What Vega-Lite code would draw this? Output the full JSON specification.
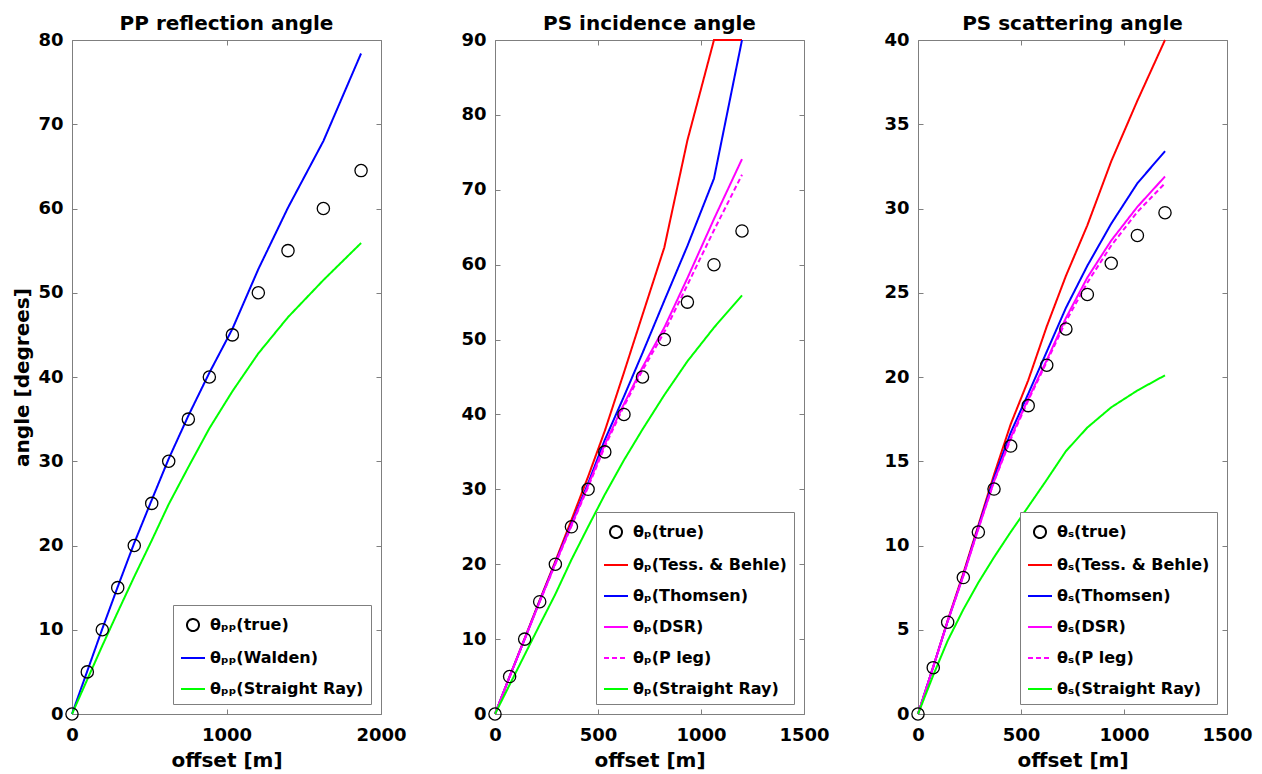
{
  "$schema": "https://vega.github.io/schema/vega-lite/v6.json",
  "background": "white",
  "padding": {"left": 12, "top": 13, "right": 10, "bottom": 0},
  "bounds": "flush",
  "spacing": 114,
  "resolve": {
    "scale": {"x": "independent", "y": "independent", "color": "independent", "shape": "independent", "strokeDash": "independent"},
    "legend": {"color": "independent", "shape": "independent", "strokeDash": "independent"}
  },
  "config": {
    "font": "DejaVu Sans",
    "view": {"stroke": "#7f7f7f", "strokeWidth": 1},
    "axis": {"domain": false, "grid": false, "tickColor": "#7f7f7f", "tickSize": -5, "tickWidth": 1,
      "labelFont": "DejaVu Sans", "labelFontSize": 18, "labelFontWeight": "bold", "labelColor": "black",
      "labelPadding": 14, "labelFlush": false, "labelOverlap": false, "format": "d",
      "titleFont": "DejaVu Sans", "titleFontSize": 20, "titleFontWeight": "bold", "titleColor": "black", "titlePadding": 5},
    "axisX": {"labelPadding": 17, "titlePadding": 6},
    "legend": {"orient": "bottom-right", "offset": 10, "title": null,
      "labelFont": "DejaVu Sans", "labelFontSize": 16, "labelFontWeight": "bold", "labelColor": "black",
      "padding": 7, "strokeColor": "#7f7f7f", "fillColor": "white",
      "symbolStrokeWidth": 2, "rowPadding": 10, "labelOffset": 4, "symbolSize": 576, "labelLimit": 300},
    "title": {"font": "DejaVu Sans", "fontSize": 20, "fontWeight": "bold", "color": "black", "offset": -3}
  },
  "datasets": {
    "pp": [
      {"offset": 0, "angle": 0, "series": "true"},
      {"offset": 99, "angle": 5, "series": "true"},
      {"offset": 196, "angle": 10, "series": "true"},
      {"offset": 296, "angle": 15, "series": "true"},
      {"offset": 403, "angle": 20, "series": "true"},
      {"offset": 516, "angle": 25, "series": "true"},
      {"offset": 626, "angle": 30, "series": "true"},
      {"offset": 753, "angle": 35, "series": "true"},
      {"offset": 889, "angle": 40, "series": "true"},
      {"offset": 1038, "angle": 45, "series": "true"},
      {"offset": 1206, "angle": 50, "series": "true"},
      {"offset": 1398, "angle": 55, "series": "true"},
      {"offset": 1627, "angle": 60, "series": "true"},
      {"offset": 1871, "angle": 64.5, "series": "true"},
      {"offset": 0, "angle": 0, "series": "Walden"},
      {"offset": 99, "angle": 5.1, "series": "Walden"},
      {"offset": 196, "angle": 10.1, "series": "Walden"},
      {"offset": 296, "angle": 15.1, "series": "Walden"},
      {"offset": 403, "angle": 20.3, "series": "Walden"},
      {"offset": 516, "angle": 25.4, "series": "Walden"},
      {"offset": 626, "angle": 30.3, "series": "Walden"},
      {"offset": 753, "angle": 35.4, "series": "Walden"},
      {"offset": 889, "angle": 40.5, "series": "Walden"},
      {"offset": 1038, "angle": 45.7, "series": "Walden"},
      {"offset": 1206, "angle": 52.8, "series": "Walden"},
      {"offset": 1398, "angle": 60.1, "series": "Walden"},
      {"offset": 1627, "angle": 68.0, "series": "Walden"},
      {"offset": 1871, "angle": 78.4, "series": "Walden"},
      {"offset": 0, "angle": 0, "series": "Straight Ray"},
      {"offset": 99, "angle": 4.1, "series": "Straight Ray"},
      {"offset": 196, "angle": 8.1, "series": "Straight Ray"},
      {"offset": 296, "angle": 12.1, "series": "Straight Ray"},
      {"offset": 403, "angle": 16.3, "series": "Straight Ray"},
      {"offset": 516, "angle": 20.6, "series": "Straight Ray"},
      {"offset": 626, "angle": 24.9, "series": "Straight Ray"},
      {"offset": 753, "angle": 29.3, "series": "Straight Ray"},
      {"offset": 889, "angle": 33.9, "series": "Straight Ray"},
      {"offset": 1038, "angle": 38.3, "series": "Straight Ray"},
      {"offset": 1206, "angle": 42.8, "series": "Straight Ray"},
      {"offset": 1398, "angle": 47.1, "series": "Straight Ray"},
      {"offset": 1627, "angle": 51.5, "series": "Straight Ray"},
      {"offset": 1871, "angle": 55.9, "series": "Straight Ray"}
    ],
    "psp": [
      {"offset": 0, "angle": 0, "series": "true"},
      {"offset": 71, "angle": 5, "series": "true"},
      {"offset": 144, "angle": 10, "series": "true"},
      {"offset": 217, "angle": 15, "series": "true"},
      {"offset": 293, "angle": 20, "series": "true"},
      {"offset": 371, "angle": 25, "series": "true"},
      {"offset": 452, "angle": 30, "series": "true"},
      {"offset": 533, "angle": 35, "series": "true"},
      {"offset": 626, "angle": 40, "series": "true"},
      {"offset": 716, "angle": 45, "series": "true"},
      {"offset": 822, "angle": 50, "series": "true"},
      {"offset": 934, "angle": 55, "series": "true"},
      {"offset": 1063, "angle": 60, "series": "true"},
      {"offset": 1199, "angle": 64.5, "series": "true"},
      {"offset": 0, "angle": 0, "series": "Tess. & Behle"},
      {"offset": 71, "angle": 5.0, "series": "Tess. & Behle"},
      {"offset": 144, "angle": 10.1, "series": "Tess. & Behle"},
      {"offset": 217, "angle": 15.2, "series": "Tess. & Behle"},
      {"offset": 293, "angle": 20.4, "series": "Tess. & Behle"},
      {"offset": 371, "angle": 25.9, "series": "Tess. & Behle"},
      {"offset": 452, "angle": 31.7, "series": "Tess. & Behle"},
      {"offset": 533, "angle": 37.8, "series": "Tess. & Behle"},
      {"offset": 626, "angle": 45.6, "series": "Tess. & Behle"},
      {"offset": 716, "angle": 53.3, "series": "Tess. & Behle"},
      {"offset": 822, "angle": 62.3, "series": "Tess. & Behle"},
      {"offset": 934, "angle": 76.6, "series": "Tess. & Behle"},
      {"offset": 1063, "angle": 90, "series": "Tess. & Behle"},
      {"offset": 1199, "angle": 90, "series": "Tess. & Behle"},
      {"offset": 0, "angle": 0, "series": "Thomsen"},
      {"offset": 71, "angle": 5.0, "series": "Thomsen"},
      {"offset": 144, "angle": 10.0, "series": "Thomsen"},
      {"offset": 217, "angle": 15.1, "series": "Thomsen"},
      {"offset": 293, "angle": 20.2, "series": "Thomsen"},
      {"offset": 371, "angle": 25.4, "series": "Thomsen"},
      {"offset": 452, "angle": 30.8, "series": "Thomsen"},
      {"offset": 533, "angle": 36.6, "series": "Thomsen"},
      {"offset": 626, "angle": 42.4, "series": "Thomsen"},
      {"offset": 716, "angle": 48.2, "series": "Thomsen"},
      {"offset": 822, "angle": 55.2, "series": "Thomsen"},
      {"offset": 934, "angle": 62.5, "series": "Thomsen"},
      {"offset": 1063, "angle": 71.5, "series": "Thomsen"},
      {"offset": 1199, "angle": 90, "series": "Thomsen"},
      {"offset": 0, "angle": 0, "series": "DSR"},
      {"offset": 71, "angle": 5.0, "series": "DSR"},
      {"offset": 144, "angle": 10.0, "series": "DSR"},
      {"offset": 217, "angle": 15.0, "series": "DSR"},
      {"offset": 293, "angle": 20.1, "series": "DSR"},
      {"offset": 371, "angle": 25.2, "series": "DSR"},
      {"offset": 452, "angle": 30.5, "series": "DSR"},
      {"offset": 533, "angle": 36.0, "series": "DSR"},
      {"offset": 626, "angle": 41.4, "series": "DSR"},
      {"offset": 716, "angle": 46.3, "series": "DSR"},
      {"offset": 822, "angle": 51.6, "series": "DSR"},
      {"offset": 934, "angle": 58.2, "series": "DSR"},
      {"offset": 1063, "angle": 66.1, "series": "DSR"},
      {"offset": 1199, "angle": 74.1, "series": "DSR"},
      {"offset": 0, "angle": 0, "series": "P leg"},
      {"offset": 71, "angle": 5.0, "series": "P leg"},
      {"offset": 144, "angle": 10.0, "series": "P leg"},
      {"offset": 217, "angle": 15.0, "series": "P leg"},
      {"offset": 293, "angle": 20.0, "series": "P leg"},
      {"offset": 371, "angle": 25.1, "series": "P leg"},
      {"offset": 452, "angle": 30.3, "series": "P leg"},
      {"offset": 533, "angle": 35.7, "series": "P leg"},
      {"offset": 626, "angle": 41.1, "series": "P leg"},
      {"offset": 716, "angle": 45.9, "series": "P leg"},
      {"offset": 822, "angle": 51.0, "series": "P leg"},
      {"offset": 934, "angle": 57.3, "series": "P leg"},
      {"offset": 1063, "angle": 64.6, "series": "P leg"},
      {"offset": 1199, "angle": 72.0, "series": "P leg"},
      {"offset": 0, "angle": 0, "series": "Straight Ray"},
      {"offset": 71, "angle": 3.9, "series": "Straight Ray"},
      {"offset": 144, "angle": 7.9, "series": "Straight Ray"},
      {"offset": 217, "angle": 11.9, "series": "Straight Ray"},
      {"offset": 293, "angle": 16.0, "series": "Straight Ray"},
      {"offset": 371, "angle": 20.6, "series": "Straight Ray"},
      {"offset": 452, "angle": 25.0, "series": "Straight Ray"},
      {"offset": 533, "angle": 29.3, "series": "Straight Ray"},
      {"offset": 626, "angle": 33.9, "series": "Straight Ray"},
      {"offset": 716, "angle": 38.0, "series": "Straight Ray"},
      {"offset": 822, "angle": 42.6, "series": "Straight Ray"},
      {"offset": 934, "angle": 47.1, "series": "Straight Ray"},
      {"offset": 1063, "angle": 51.6, "series": "Straight Ray"},
      {"offset": 1199, "angle": 55.9, "series": "Straight Ray"}
    ],
    "pss": [
      {"offset": 0, "angle": 0, "series": "true"},
      {"offset": 74, "angle": 2.75, "series": "true"},
      {"offset": 144, "angle": 5.45, "series": "true"},
      {"offset": 220, "angle": 8.1, "series": "true"},
      {"offset": 293, "angle": 10.8, "series": "true"},
      {"offset": 369, "angle": 13.35, "series": "true"},
      {"offset": 450, "angle": 15.9, "series": "true"},
      {"offset": 535, "angle": 18.3, "series": "true"},
      {"offset": 625, "angle": 20.7, "series": "true"},
      {"offset": 718, "angle": 22.85, "series": "true"},
      {"offset": 822, "angle": 24.9, "series": "true"},
      {"offset": 938, "angle": 26.75, "series": "true"},
      {"offset": 1065, "angle": 28.4, "series": "true"},
      {"offset": 1199, "angle": 29.75, "series": "true"},
      {"offset": 0, "angle": 0, "series": "Tess. & Behle"},
      {"offset": 74, "angle": 2.8, "series": "Tess. & Behle"},
      {"offset": 144, "angle": 5.55, "series": "Tess. & Behle"},
      {"offset": 220, "angle": 8.35, "series": "Tess. & Behle"},
      {"offset": 293, "angle": 11.2, "series": "Tess. & Behle"},
      {"offset": 369, "angle": 14.2, "series": "Tess. & Behle"},
      {"offset": 450, "angle": 17.2, "series": "Tess. & Behle"},
      {"offset": 535, "angle": 19.8, "series": "Tess. & Behle"},
      {"offset": 625, "angle": 23.0, "series": "Tess. & Behle"},
      {"offset": 718, "angle": 26.0, "series": "Tess. & Behle"},
      {"offset": 822, "angle": 29.0, "series": "Tess. & Behle"},
      {"offset": 938, "angle": 32.8, "series": "Tess. & Behle"},
      {"offset": 1065, "angle": 36.4, "series": "Tess. & Behle"},
      {"offset": 1199, "angle": 40.0, "series": "Tess. & Behle"},
      {"offset": 0, "angle": 0, "series": "Thomsen"},
      {"offset": 74, "angle": 2.8, "series": "Thomsen"},
      {"offset": 144, "angle": 5.5, "series": "Thomsen"},
      {"offset": 220, "angle": 8.25, "series": "Thomsen"},
      {"offset": 293, "angle": 11.1, "series": "Thomsen"},
      {"offset": 369, "angle": 14.0, "series": "Thomsen"},
      {"offset": 450, "angle": 16.7, "series": "Thomsen"},
      {"offset": 535, "angle": 19.0, "series": "Thomsen"},
      {"offset": 625, "angle": 21.5, "series": "Thomsen"},
      {"offset": 718, "angle": 24.1, "series": "Thomsen"},
      {"offset": 822, "angle": 26.6, "series": "Thomsen"},
      {"offset": 938, "angle": 29.1, "series": "Thomsen"},
      {"offset": 1065, "angle": 31.5, "series": "Thomsen"},
      {"offset": 1199, "angle": 33.4, "series": "Thomsen"},
      {"offset": 0, "angle": 0, "series": "DSR"},
      {"offset": 74, "angle": 2.8, "series": "DSR"},
      {"offset": 144, "angle": 5.5, "series": "DSR"},
      {"offset": 220, "angle": 8.2, "series": "DSR"},
      {"offset": 293, "angle": 11.0, "series": "DSR"},
      {"offset": 369, "angle": 13.8, "series": "DSR"},
      {"offset": 450, "angle": 16.4, "series": "DSR"},
      {"offset": 535, "angle": 18.7, "series": "DSR"},
      {"offset": 625, "angle": 21.0, "series": "DSR"},
      {"offset": 718, "angle": 23.5, "series": "DSR"},
      {"offset": 822, "angle": 25.9, "series": "DSR"},
      {"offset": 938, "angle": 28.1, "series": "DSR"},
      {"offset": 1065, "angle": 30.1, "series": "DSR"},
      {"offset": 1199, "angle": 31.9, "series": "DSR"},
      {"offset": 0, "angle": 0, "series": "P leg"},
      {"offset": 74, "angle": 2.8, "series": "P leg"},
      {"offset": 144, "angle": 5.5, "series": "P leg"},
      {"offset": 220, "angle": 8.2, "series": "P leg"},
      {"offset": 293, "angle": 11.0, "series": "P leg"},
      {"offset": 369, "angle": 13.8, "series": "P leg"},
      {"offset": 450, "angle": 16.3, "series": "P leg"},
      {"offset": 535, "angle": 18.6, "series": "P leg"},
      {"offset": 625, "angle": 20.9, "series": "P leg"},
      {"offset": 718, "angle": 23.3, "series": "P leg"},
      {"offset": 822, "angle": 25.6, "series": "P leg"},
      {"offset": 938, "angle": 27.8, "series": "P leg"},
      {"offset": 1065, "angle": 29.8, "series": "P leg"},
      {"offset": 1199, "angle": 31.5, "series": "P leg"},
      {"offset": 0, "angle": 0, "series": "Straight Ray"},
      {"offset": 74, "angle": 2.3, "series": "Straight Ray"},
      {"offset": 144, "angle": 4.35, "series": "Straight Ray"},
      {"offset": 220, "angle": 6.2, "series": "Straight Ray"},
      {"offset": 293, "angle": 7.8, "series": "Straight Ray"},
      {"offset": 369, "angle": 9.3, "series": "Straight Ray"},
      {"offset": 450, "angle": 10.8, "series": "Straight Ray"},
      {"offset": 535, "angle": 12.3, "series": "Straight Ray"},
      {"offset": 625, "angle": 13.9, "series": "Straight Ray"},
      {"offset": 718, "angle": 15.6, "series": "Straight Ray"},
      {"offset": 822, "angle": 17.0, "series": "Straight Ray"},
      {"offset": 938, "angle": 18.2, "series": "Straight Ray"},
      {"offset": 1065, "angle": 19.2, "series": "Straight Ray"},
      {"offset": 1199, "angle": 20.1, "series": "Straight Ray"}
    ]
  },
  "hconcat": [
    {
      "width": 309, "height": 674,
      "title": "PP reflection angle",
      "resolve": {"axis": {"x": "independent", "y": "independent"}},
      "layer": [
        {
          "data": {"name": "pp"},
          "transform": [{"filter": "datum.series !== 'true'"}],
          "mark": {"type": "line", "strokeWidth": 2},
          "encoding": {
            "x": {"field": "offset", "type": "quantitative", "scale": {"domain": [0, 2000], "nice": false}, "axis": {"orient": "bottom", "title": "offset [m]", "values": [0, 1000, 2000]}},
            "y": {"field": "angle", "type": "quantitative", "scale": {"domain": [0, 80], "nice": false}, "axis": {"orient": "left", "title": "angle [degrees]", "values": [0, 10, 20, 30, 40, 50, 60, 70, 80]}},
            "color": {"field": "series", "type": "nominal", "scale": {"domain": ["true", "Walden", "Straight Ray"], "range": ["black", "#0000ff", "#00ff00"]},
              "legend": {"labelExpr": "'θₚₚ(' + datum.label + ')'", "encode": {"symbols": {"update": {"fill": {"value": "transparent"}, "size": {"signal": "datum.value === 'true' ? 144 : 576"}}}}}},
            "strokeDash": {"field": "series", "type": "nominal", "scale": {"domain": ["true", "Walden", "Straight Ray"], "range": [[1, 0], [1, 0], [1, 0]]},
              "legend": {"labelExpr": "'θₚₚ(' + datum.label + ')'", "encode": {"symbols": {"update": {"fill": {"value": "transparent"}, "size": {"signal": "datum.value === 'true' ? 144 : 576"}}}}}}
          }
        },
        {
          "data": {"name": "pp"},
          "transform": [{"filter": "datum.series === 'true'"}],
          "mark": {"type": "point", "filled": false, "size": 150, "strokeWidth": 1.3, "opacity": 1},
          "encoding": {
            "x": {"field": "offset", "type": "quantitative", "scale": {"domain": [0, 2000], "nice": false}, "axis": {"orient": "top", "title": null, "labels": false, "values": [0, 1000, 2000]}},
            "y": {"field": "angle", "type": "quantitative", "scale": {"domain": [0, 80], "nice": false}, "axis": {"orient": "right", "title": null, "labels": false, "values": [0, 10, 20, 30, 40, 50, 60, 70, 80]}},
            "color": {"field": "series", "type": "nominal", "scale": {"domain": ["true", "Walden", "Straight Ray"], "range": ["black", "#0000ff", "#00ff00"]},
              "legend": {"labelExpr": "'θₚₚ(' + datum.label + ')'", "encode": {"symbols": {"update": {"fill": {"value": "transparent"}, "size": {"signal": "datum.value === 'true' ? 144 : 576"}}}}}},
            "shape": {"field": "series", "type": "nominal", "scale": {"domain": ["true", "Walden", "Straight Ray"], "range": ["circle", "stroke", "stroke"]},
              "legend": {"labelExpr": "'θₚₚ(' + datum.label + ')'", "encode": {"symbols": {"update": {"fill": {"value": "transparent"}, "size": {"signal": "datum.value === 'true' ? 144 : 576"}}}}}}
          }
        }
      ]
    },
    {
      "width": 309, "height": 674,
      "title": "PS incidence angle",
      "resolve": {"axis": {"x": "independent", "y": "independent"}},
      "layer": [
        {
          "data": {"name": "psp"},
          "transform": [{"filter": "datum.series !== 'true'"}],
          "mark": {"type": "line", "strokeWidth": 2},
          "encoding": {
            "x": {"field": "offset", "type": "quantitative", "scale": {"domain": [0, 1500], "nice": false}, "axis": {"orient": "bottom", "title": "offset [m]", "values": [0, 500, 1000, 1500]}},
            "y": {"field": "angle", "type": "quantitative", "scale": {"domain": [0, 90], "nice": false}, "axis": {"orient": "left", "title": null, "values": [0, 10, 20, 30, 40, 50, 60, 70, 80, 90]}},
            "color": {"field": "series", "type": "nominal", "scale": {"domain": ["true", "Tess. & Behle", "Thomsen", "DSR", "P leg", "Straight Ray"], "range": ["black", "#ff0000", "#0000ff", "#ff00ff", "#ff00ff", "#00ff00"]},
              "legend": {"labelExpr": "'θₚ(' + datum.label + ')'", "encode": {"symbols": {"update": {"fill": {"value": "transparent"}, "size": {"signal": "datum.value === 'true' ? 144 : 576"}}}}}},
            "strokeDash": {"field": "series", "type": "nominal", "scale": {"domain": ["true", "Tess. & Behle", "Thomsen", "DSR", "P leg", "Straight Ray"], "range": [[1, 0], [1, 0], [1, 0], [1, 0], [5, 3], [1, 0]]},
              "legend": {"labelExpr": "'θₚ(' + datum.label + ')'", "encode": {"symbols": {"update": {"fill": {"value": "transparent"}, "size": {"signal": "datum.value === 'true' ? 144 : 576"}}}}}}
          }
        },
        {
          "data": {"name": "psp"},
          "transform": [{"filter": "datum.series === 'true'"}],
          "mark": {"type": "point", "filled": false, "size": 150, "strokeWidth": 1.3, "opacity": 1},
          "encoding": {
            "x": {"field": "offset", "type": "quantitative", "scale": {"domain": [0, 1500], "nice": false}, "axis": {"orient": "top", "title": null, "labels": false, "values": [0, 500, 1000, 1500]}},
            "y": {"field": "angle", "type": "quantitative", "scale": {"domain": [0, 90], "nice": false}, "axis": {"orient": "right", "title": null, "labels": false, "values": [0, 10, 20, 30, 40, 50, 60, 70, 80, 90]}},
            "color": {"field": "series", "type": "nominal", "scale": {"domain": ["true", "Tess. & Behle", "Thomsen", "DSR", "P leg", "Straight Ray"], "range": ["black", "#ff0000", "#0000ff", "#ff00ff", "#ff00ff", "#00ff00"]},
              "legend": {"labelExpr": "'θₚ(' + datum.label + ')'", "encode": {"symbols": {"update": {"fill": {"value": "transparent"}, "size": {"signal": "datum.value === 'true' ? 144 : 576"}}}}}},
            "shape": {"field": "series", "type": "nominal", "scale": {"domain": ["true", "Tess. & Behle", "Thomsen", "DSR", "P leg", "Straight Ray"], "range": ["circle", "stroke", "stroke", "stroke", "stroke", "stroke"]},
              "legend": {"labelExpr": "'θₚ(' + datum.label + ')'", "encode": {"symbols": {"update": {"fill": {"value": "transparent"}, "size": {"signal": "datum.value === 'true' ? 144 : 576"}}}}}}
          }
        }
      ]
    },
    {
      "width": 309, "height": 674,
      "title": "PS scattering angle",
      "resolve": {"axis": {"x": "independent", "y": "independent"}},
      "layer": [
        {
          "data": {"name": "pss"},
          "transform": [{"filter": "datum.series !== 'true'"}],
          "mark": {"type": "line", "strokeWidth": 2},
          "encoding": {
            "x": {"field": "offset", "type": "quantitative", "scale": {"domain": [0, 1500], "nice": false}, "axis": {"orient": "bottom", "title": "offset [m]", "values": [0, 500, 1000, 1500]}},
            "y": {"field": "angle", "type": "quantitative", "scale": {"domain": [0, 40], "nice": false}, "axis": {"orient": "left", "title": null, "values": [0, 5, 10, 15, 20, 25, 30, 35, 40]}},
            "color": {"field": "series", "type": "nominal", "scale": {"domain": ["true", "Tess. & Behle", "Thomsen", "DSR", "P leg", "Straight Ray"], "range": ["black", "#ff0000", "#0000ff", "#ff00ff", "#ff00ff", "#00ff00"]},
              "legend": {"labelExpr": "'θₛ(' + datum.label + ')'", "encode": {"symbols": {"update": {"fill": {"value": "transparent"}, "size": {"signal": "datum.value === 'true' ? 144 : 576"}}}}}},
            "strokeDash": {"field": "series", "type": "nominal", "scale": {"domain": ["true", "Tess. & Behle", "Thomsen", "DSR", "P leg", "Straight Ray"], "range": [[1, 0], [1, 0], [1, 0], [1, 0], [5, 3], [1, 0]]},
              "legend": {"labelExpr": "'θₛ(' + datum.label + ')'", "encode": {"symbols": {"update": {"fill": {"value": "transparent"}, "size": {"signal": "datum.value === 'true' ? 144 : 576"}}}}}}
          }
        },
        {
          "data": {"name": "pss"},
          "transform": [{"filter": "datum.series === 'true'"}],
          "mark": {"type": "point", "filled": false, "size": 150, "strokeWidth": 1.3, "opacity": 1},
          "encoding": {
            "x": {"field": "offset", "type": "quantitative", "scale": {"domain": [0, 1500], "nice": false}, "axis": {"orient": "top", "title": null, "labels": false, "values": [0, 500, 1000, 1500]}},
            "y": {"field": "angle", "type": "quantitative", "scale": {"domain": [0, 40], "nice": false}, "axis": {"orient": "right", "title": null, "labels": false, "values": [0, 5, 10, 15, 20, 25, 30, 35, 40]}},
            "color": {"field": "series", "type": "nominal", "scale": {"domain": ["true", "Tess. & Behle", "Thomsen", "DSR", "P leg", "Straight Ray"], "range": ["black", "#ff0000", "#0000ff", "#ff00ff", "#ff00ff", "#00ff00"]},
              "legend": {"labelExpr": "'θₛ(' + datum.label + ')'", "encode": {"symbols": {"update": {"fill": {"value": "transparent"}, "size": {"signal": "datum.value === 'true' ? 144 : 576"}}}}}},
            "shape": {"field": "series", "type": "nominal", "scale": {"domain": ["true", "Tess. & Behle", "Thomsen", "DSR", "P leg", "Straight Ray"], "range": ["circle", "stroke", "stroke", "stroke", "stroke", "stroke"]},
              "legend": {"labelExpr": "'θₛ(' + datum.label + ')'", "encode": {"symbols": {"update": {"fill": {"value": "transparent"}, "size": {"signal": "datum.value === 'true' ? 144 : 576"}}}}}}
          }
        }
      ]
    }
  ]
}
